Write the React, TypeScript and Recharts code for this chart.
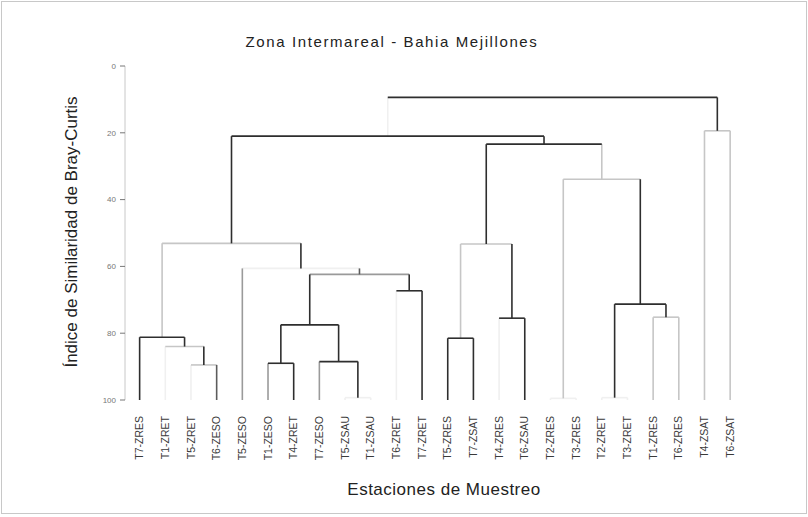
import React from "react";
import { LineChart, Line, XAxis, YAxis } from "recharts";

// ---- data ----
const leafLabels = [
  "T7-ZRES", "T1-ZRET", "T5-ZRET", "T6-ZESO", "T5-ZESO", "T1-ZESO", "T4-ZRET", "T7-ZESO",
  "T5-ZSAU", "T1-ZSAU", "T6-ZRET", "T7-ZRET", "T5-ZRES", "T7-ZSAT", "T4-ZRES", "T6-ZSAU",
  "T2-ZRES", "T3-ZRES", "T2-ZRET", "T3-ZRET", "T1-ZRES", "T6-ZRES", "T4-ZSAT", "T6-ZSAT",
];
// hclust-style merges: negative = leaf (1-based), positive = earlier merge (1-based)
const mergeLeft = [-9, -17, -19, -3, -2, -1, -6, -8, 7, -11, 9, -5, 6, -13, -15, 14, -21, 3, 2, 16, 13, -23, 21];
const mergeRight = [-10, -18, -20, -4, 4, 5, -7, 1, 8, -12, 10, 11, 12, -14, -16, 15, -22, 17, 18, 19, 20, -24, 22];
const mergeHeight = [99.3, 99.5, 99.3, 89.5, 84.0, 81.2, 89.0, 88.5, 77.5, 67.3, 62.4, 60.6, 53.1, 81.5, 75.5, 53.3, 75.2, 71.3, 33.9, 23.4, 21.0, 19.4, 9.4];
const yTicks = [0, 20, 40, 60, 80, 100];

// ---- styles ----
const K = "#2e2e2e";
const D = "#5c5c5c";
const M = "#9a9a9a";
const L = "#c6c6c6";
const W = "#f0f0f0";
// per merge: [left leg, horizontal, right leg]
const mergeColors = [
  [W, W, W], [W, W, W], [W, W, W], [W, L, D], [W, L, K], [K, K, K], [M, K, K], [M, K, K],
  [K, K, K], [W, K, K], [K, M, K], [M, W, D], [L, L, K], [K, K, K], [W, K, K], [L, L, K],
  [L, L, L], [K, K, K], [L, L, K], [K, K, L], [K, K, K], [L, L, L], [W, K, K],
];
const rank: Record<string, number> = { [W]: 0, [L]: 1, [M]: 2, [D]: 3, [K]: 4 };

type Seg = { id: string; color: string; pts: { x: number; y: number }[] };

function buildSegments(): Seg[] {
  const nodeX: number[] = [];
  const nodeH: number[] = [];
  const pos = (c: number) => (c < 0 ? -c - 1 : nodeX[c - 1]);
  const hgt = (c: number) => (c < 0 ? 100 : nodeH[c - 1]);
  const segs: Seg[] = [];
  mergeLeft.forEach((l, i) => {
    const r = mergeRight[i];
    const h = mergeHeight[i];
    const xl = pos(l);
    const xr = pos(r);
    const [cl, ch, cr] = mergeColors[i];
    segs.push({ id: `m${i}l`, color: cl, pts: [{ x: xl, y: hgt(l) }, { x: xl, y: h }] });
    segs.push({ id: `m${i}h`, color: ch, pts: [{ x: xl, y: h }, { x: xr, y: h }] });
    segs.push({ id: `m${i}r`, color: cr, pts: [{ x: xr, y: h }, { x: xr, y: hgt(r) }] });
    nodeX.push((xl + xr) / 2);
    nodeH.push(h);
  });
  return segs.sort((a, b) => rank[a.color] - rank[b.color]);
}

const segments = buildSegments();

const FONT = "'Liberation Sans', Arial, sans-serif";

const LeafTick = (props: any) => {
  const { x, y, payload } = props;
  const label = leafLabels[payload.value];
  const ty = y + 16;
  return (
    <text
      x={x}
      y={ty}
      dy={3.6}
      transform={`rotate(-90, ${x}, ${ty})`}
      textAnchor="end"
      fontSize={10.5}
      fill="#3a3a3a"
      fontFamily={FONT}
    >
      {label}
    </text>
  );
};

export default function App() {
  return (
    <div style={{ position: "relative", width: 808, height: 517, background: "#fff", fontFamily: FONT }}>
      <style>{`body{margin:0;background:#fff}`}</style>
      <div
        style={{
          position: "absolute",
          left: 1,
          top: 1,
          width: 804,
          height: 511,
          border: "1px solid #c8c8c8",
        }}
      />
      <div
        style={{
          position: "absolute",
          left: 0,
          top: 33,
          width: 784,
          textAlign: "center",
          fontSize: 15,
          letterSpacing: 1.6,
          color: "#222",
          whiteSpace: "nowrap",
        }}
      >
        Zona Intermareal - Bahia Mejillones
      </div>
      <div
        style={{
          position: "absolute",
          left: 72,
          top: 232,
          transform: "translate(-50%, -50%) rotate(-90deg)",
          fontSize: 17,
          color: "#222",
          whiteSpace: "nowrap",
        }}
      >
        Índice de Similaridad de Bray-Curtis
      </div>
      <div
        style={{
          position: "absolute",
          left: 444,
          top: 490,
          transform: "translate(-50%, -50%)",
          fontSize: 17,
          letterSpacing: 0.5,
          color: "#222",
          whiteSpace: "nowrap",
        }}
      >
        Estaciones de Muestreo
      </div>
      <div style={{ position: "absolute", left: 0, top: 0 }}>
        <LineChart width={808} height={517} margin={{ top: 66, right: 65, bottom: 57, left: 65 }}>
          <XAxis
            dataKey="x"
            type="number"
            domain={[-0.57, 23.5]}
            ticks={leafLabels.map((_, i) => i)}
            interval={0}
            axisLine={false}
            tickLine={false}
            tickSize={0}
            tickMargin={0}
            height={60}
            tick={<LeafTick />}
          />
          <YAxis
            type="number"
            domain={[0, 100]}
            reversed
            ticks={yTicks}
            width={60}
            axisLine={{ stroke: "#c8c8c8" }}
            tickLine={{ stroke: "#777" }}
            tickSize={5}
            tickMargin={4}
            tick={{ fontSize: 8, fill: "#777", fontFamily: FONT }}
          />
          {segments.map((s) => (
            <Line
              key={s.id}
              data={s.pts}
              dataKey="y"
              type="linear"
              stroke={s.color}
              strokeWidth={1.6}
              dot={false}
              activeDot={false}
              legendType="none"
              isAnimationActive={false}
            />
          ))}
        </LineChart>
      </div>
    </div>
  );
}
